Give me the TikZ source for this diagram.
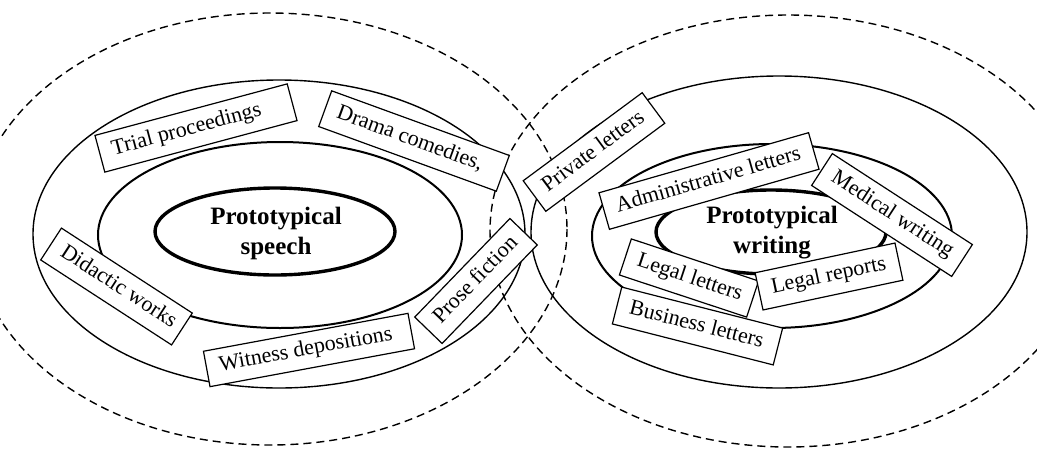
\documentclass[tikz,border=0pt]{standalone}
\usepackage{fontspec}
\setmainfont{Liberation Serif}
\begin{document}
\begin{tikzpicture}[x=1pt,y=-1pt,
  dashring/.style={line width=1.4pt, dash pattern=on 8pt off 5pt},
  outerring/.style={line width=1.4pt},
  midring/.style={line width=2pt},
  corering/.style={line width=3.4pt},
  coretext/.style={font=\bfseries\fontsize{25}{30}\selectfont, align=center, inner sep=0pt},
  tbox/.style={draw, fill=white, line width=1.2pt, inner xsep=13pt, inner ysep=0pt,
    minimum height=38pt, text height=15pt, text depth=5pt,
    font=\fontsize{22}{26}\selectfont}]
\useasboundingbox (0,0) rectangle (1037,448);
\begin{scope}
\clip (0,0) rectangle (1037,448);
% dashed outer ellipses
\draw[dashring] (270,229) ellipse [x radius=297, y radius=216];
\draw[dashring] (788,231) ellipse [x radius=298, y radius=216];
% left rings
\draw[outerring] (279,234) ellipse [x radius=246, y radius=154];
\draw[midring] (280,235) ellipse [x radius=182, y radius=93];
\draw[corering] (275,231.5) ellipse [x radius=120, y radius=43.5];
% right rings
\draw[outerring] (779,232) ellipse [x radius=248, y radius=156];
\draw[midring] (772,236) ellipse [x radius=180, y radius=92];
\draw[corering] (771,232) ellipse [x radius=115, y radius=42];
\end{scope}
\node[coretext] (speech) at (276,233) {Prototypical\\speech};
\node[coretext] (writing) at (772,233) {Prototypical\\writing};
% left boxes
\node[tbox, rotate=15] (trial) at (196,128) {\makebox[173pt][l]{Trial proceedings}};
\node[tbox, rotate=-20] (drama) at (414,141) {\makebox[163pt][l]{Drama comedies,}};
\node[tbox, rotate=-33] (didactic) at (116.5,286.5) {\makebox[130pt][l]{Didactic works}};
\node[tbox, rotate=10.5, minimum height=36pt] (witness) at (309,350) {\makebox[182pt][l]{Witness depositions}};
\node[tbox, rotate=46] (prose) at (476,281) {\makebox[111pt][l]{Prose fiction}};
% right boxes
\node[tbox, rotate=-14.3] (business) at (697.5,326) {\makebox[140pt][l]{Business letters}};
\node[tbox, rotate=-18.3] (legall) at (689,278) {\makebox[108pt][l]{Legal letters}};
\node[tbox, rotate=12] (legalr) at (829,276.5) {\makebox[117pt][l]{Legal reports}};
\node[tbox, rotate=16] (admin) at (709,181) {\makebox[192pt][l]{Administrative letters}};
\node[tbox, rotate=-33] (medical) at (892,215) {\makebox[141pt][l]{Medical writing}};
\node[tbox, rotate=36.5] (private) at (594,152) {\makebox[122pt][l]{Private letters}};
\end{tikzpicture}
\end{document}
